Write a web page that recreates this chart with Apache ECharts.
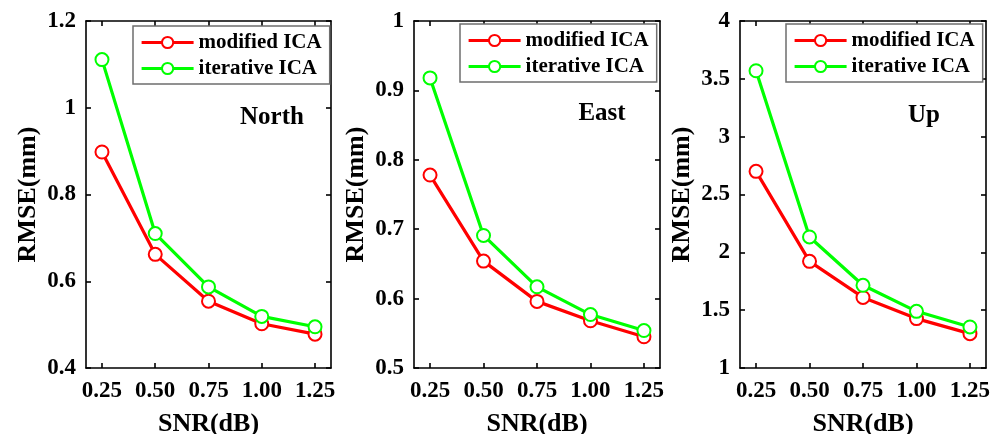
<!DOCTYPE html>
<html>
<head>
<meta charset="utf-8">
<script src="https://cdn.jsdelivr.net/npm/echarts@6/dist/echarts.min.js"></script>
<style>
html,body{margin:0;padding:0;background:#fff;}
#main{width:998px;height:434px;}
</style>
</head>
<body>
<div id="main"></div>
<script>
// ---- data ----
const snr = [0.25, 0.50, 0.75, 1.00, 1.25];
const xTickLabels = ['0.25', '0.50', '0.75', '1.00', '1.25'];
const seriesNames = ['modified ICA', 'iterative ICA'];
const panelNames = ['North', 'East', 'Up'];

const northModified = [0.898, 0.662, 0.554, 0.502, 0.478];
const northIterative = [1.111, 0.710, 0.587, 0.519, 0.495];
const eastModified = [0.778, 0.654, 0.596, 0.568, 0.545];
const eastIterative = [0.918, 0.691, 0.617, 0.577, 0.554];
const upModified = [2.70, 1.922, 1.61, 1.427, 1.297];
const upIterative = [3.57, 2.133, 1.715, 1.49, 1.355];

const yRanges = [[0.4, 1.2, 0.2], [0.5, 1.0, 0.1], [1, 4, 0.5]];
const panelData = [[northModified, northIterative], [eastModified, eastIterative], [upModified, upIterative]];

// ---- layout / style ----
const FONT = '"Liberation Serif", "Times New Roman", serif';
const grids = [
  {left: 86, top: 21, width: 245, height: 347, outerBoundsMode: 'none', containLabel: false},
  {left: 414, top: 21, width: 246, height: 347, outerBoundsMode: 'none', containLabel: false},
  {left: 740, top: 21, width: 246, height: 347, outerBoundsMode: 'none', containLabel: false}
];
const legendPos = [{left: 133, top: 26}, {left: 460, top: 24}, {left: 786, top: 24}];
const labelPos = [[272, 118], [602, 114], [924, 116]];
const colors = ['#ff0000', '#00ff00'];

const axisLineStyle = {color: '#000', width: 1.6};
const xAxes = [], yAxes = [], series = [], legends = [], graphics = [];

grids.forEach((g, i) => {
  const common = {
    gridIndex: i, type: 'value', min: 0.175, max: 1.325,
    axisLine: {show: true, onZero: false, lineStyle: axisLineStyle},
    splitLine: {show: false}
  };
  xAxes.push(Object.assign({}, common, {
    position: 'bottom',
    name: 'SNR(dB)', nameLocation: 'middle', nameGap: 43,
    nameTextStyle: {fontFamily: FONT, fontWeight: 'bold', fontSize: 26, color: '#000'},
    axisTick: {show: true, inside: true, length: 5, lineStyle: axisLineStyle, customValues: snr},
    axisLabel: {show: true, margin: 12, fontFamily: FONT, fontWeight: 'bold', fontSize: 23, color: '#000',
      customValues: snr, formatter: v => xTickLabels[snr.findIndex(s => Math.abs(s - v) < 1e-6)]}
  }));
  xAxes.push(Object.assign({}, common, {
    position: 'top',
    axisTick: {show: true, inside: true, length: 5, lineStyle: axisLineStyle, customValues: snr},
    axisLabel: {show: false}
  }));
  const [mn, mx, step] = yRanges[i];
  const yCommon = {
    gridIndex: i, type: 'value', min: mn, max: mx, interval: step,
    axisLine: {show: true, onZero: false, lineStyle: axisLineStyle},
    axisTick: {show: true, inside: true, length: 5, lineStyle: axisLineStyle},
    splitLine: {show: false}
  };
  yAxes.push(Object.assign({}, yCommon, {
    position: 'left',
    name: 'RMSE(mm)', nameLocation: 'middle', nameGap: 45, nameRotate: 90,
    nameTextStyle: {fontFamily: FONT, fontWeight: 'bold', fontSize: 26, color: '#000'},
    axisLabel: {show: true, margin: 10, fontFamily: FONT, fontWeight: 'bold', fontSize: 23, color: '#000'}
  }));
  yAxes.push(Object.assign({}, yCommon, {position: 'right', axisLabel: {show: false}}));

  panelData[i].forEach((vals, k) => {
    series.push({
      name: seriesNames[k], type: 'line', xAxisIndex: 2 * i, yAxisIndex: 2 * i,
      data: snr.map((x, j) => [x, vals[j]]),
      symbol: 'emptyCircle', symbolSize: 13,
      lineStyle: {color: colors[k], width: 3.2},
      itemStyle: {color: colors[k], borderColor: colors[k], borderWidth: 3},
      z: 2 + k, animation: false
    });
  });

  legends.push({
    data: seriesNames, orient: 'vertical',
    left: legendPos[i].left, top: legendPos[i].top,
    itemWidth: 52, itemHeight: 14, itemGap: 5,
    padding: [6, 8, 5, 7],
    backgroundColor: '#fff', borderColor: '#6e6e6e', borderWidth: 1.5,
    lineStyle: {width: 3.2},
    itemStyle: {borderWidth: 3},
    textStyle: {fontFamily: FONT, fontWeight: 'bold', fontSize: 21, color: '#000'},
    selectedMode: false
  });

  graphics.push({
    type: 'text', x: labelPos[i][0], y: labelPos[i][1],
    style: {text: panelNames[i], fontFamily: FONT, fontWeight: 'bold', fontSize: 25, fill: '#000',
      textAlign: 'center', textVerticalAlign: 'middle'}
  });
});

const chart = echarts.init(document.getElementById('main'), null, {renderer: 'canvas'});
chart.setOption({
  backgroundColor: '#fff',
  animation: false,
  grid: grids,
  xAxis: xAxes,
  yAxis: yAxes,
  legend: legends,
  series: series,
  graphic: graphics
});
</script>
</body>
</html>
